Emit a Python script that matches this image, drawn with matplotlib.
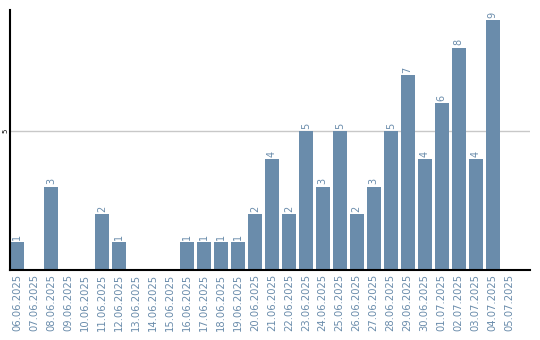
import matplotlib
matplotlib.use("Agg")
import matplotlib.pyplot as plt
import numpy as np

dates = ['06.06.2025', '07.06.2025', '08.06.2025', '09.06.2025', '10.06.2025',
         '11.06.2025', '12.06.2025', '13.06.2025', '14.06.2025', '15.06.2025',
         '16.06.2025', '17.06.2025', '18.06.2025', '19.06.2025', '20.06.2025',
         '21.06.2025', '22.06.2025', '23.06.2025', '24.06.2025', '25.06.2025',
         '26.06.2025', '27.06.2025', '28.06.2025', '29.06.2025', '30.06.2025',
         '01.07.2025', '02.07.2025', '03.07.2025', '04.07.2025', '05.07.2025']
counts = [1, 0, 3, 0, 0, 2, 1, 0, 0, 0,
          1, 1, 1, 1, 2, 4, 2, 5, 3, 5,
          2, 3, 5, 7, 4, 6, 8, 4, 9, 0]

barcolor = '#6a8cab'
textcolor = '#6a8cab'

fig = plt.figure(figsize=(5.4, 3.4), dpi=100)
ax = fig.add_axes([10/540, 70/340, 520/540, 260/340])

x = np.arange(len(dates))
ax.bar(x, counts, width=0.82, color=barcolor, zorder=2)
for xi, v in zip(x, counts):
	if v > 0:
		ax.text(xi, v + 0.08, str(v), rotation=90, ha='center', va='bottom',
				fontsize=7, color=textcolor)

ax.set_xlim(-0.41, 30.2)
ax.set_ylim(0, 9.35)
ax.axhline(5, color='#c8c8c8', linewidth=1, zorder=1)

ax.set_xticks(x)
ax.set_xticklabels(dates, rotation=90, fontsize=7.2, color=textcolor)
ax.set_yticks([5])
ax.set_yticklabels(['5'], rotation=90, fontsize=5, va='center')
ax.tick_params(length=0, pad=3)
ax.tick_params(axis='y', pad=1)

for side in ['top', 'right']:
	ax.spines[side].set_visible(False)
for side in ['left', 'bottom']:
	ax.spines[side].set_linewidth(1.5)
	ax.spines[side].set_color('black')

fig.savefig('out.png', dpi=100)
